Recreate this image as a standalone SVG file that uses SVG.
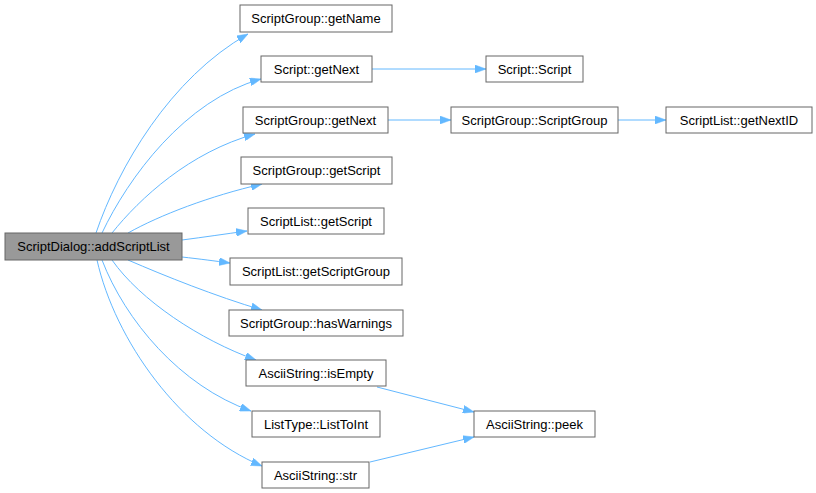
<svg xmlns="http://www.w3.org/2000/svg" width="816" height="493" viewBox="0 0 816 493">
<defs>
<style>
.n rect{fill:#ffffff;stroke:#666666;stroke-width:1}
.n.root rect{fill:#999999}
.n text{font-family:"Liberation Sans",Arial,sans-serif;font-size:13px;fill:#000000;text-anchor:middle}
.e path{fill:none;stroke:#63b8ff;stroke-width:1;marker-end:url(#ah)}
</style>
<marker id="ah" markerUnits="userSpaceOnUse" markerWidth="11" markerHeight="8" refX="11" refY="4" orient="auto">
<path d="M0,0 L11,4 L0,8 z" fill="#63b8ff" stroke="#63b8ff" stroke-width="0.5"/>
</marker>
</defs>
<rect width="816" height="493" fill="#ffffff"/>
<g id="edges" class="e">
<path d="M96,233 C118,168 170,78 248,34"/>
<path d="M102,233 C128,178 185,100 261,79"/>
<path d="M112,233 C140,198 190,152 255,134"/>
<path d="M128,233 C160,215 210,196 262,184"/>
<path d="M182,240 C205,237 225,234 247,231"/>
<path d="M182,257 C200,259 215,261 230,263"/>
<path d="M128,260 C165,276 215,296 262,310"/>
<path d="M112,260 C140,300 200,340 256,360"/>
<path d="M102,260 C125,320 180,386 251,411"/>
<path d="M97,260 C115,340 180,432 262,466"/>
<path d="M372,69 L486,69"/>
<path d="M388,120 L451,120"/>
<path d="M618,120 L666,120"/>
<path d="M377,387 L474,412"/>
<path d="M370,462 L474,437"/>
</g>
<g id="n0" class="n root"><rect x="5" y="233" width="177" height="27"/><text x="93.5" y="251">ScriptDialog::addScriptList</text></g>
<g id="n1" class="n"><rect x="240" y="5" width="152" height="27"/><text x="316" y="23">ScriptGroup::getName</text></g>
<g id="n2" class="n"><rect x="261" y="56" width="111" height="26"/><text x="316.5" y="73.5">Script::getNext</text></g>
<g id="n3" class="n"><rect x="243" y="107" width="145" height="26"/><text x="315.5" y="124.5">ScriptGroup::getNext</text></g>
<g id="n4" class="n"><rect x="486" y="56" width="97" height="26"/><text x="534.5" y="73.5">Script::Script</text></g>
<g id="n5" class="n"><rect x="451" y="107" width="167" height="26"/><text x="534.5" y="124.5">ScriptGroup::ScriptGroup</text></g>
<g id="n6" class="n"><rect x="666" y="107" width="146" height="26"/><text x="739" y="124.5">ScriptList::getNextID</text></g>
<g id="n7" class="n"><rect x="241" y="157" width="151" height="27"/><text x="316.5" y="175">ScriptGroup::getScript</text></g>
<g id="n8" class="n"><rect x="248" y="208" width="136" height="26"/><text x="316" y="225.5">ScriptList::getScript</text></g>
<g id="n9" class="n"><rect x="230" y="258" width="172" height="27"/><text x="316" y="276">ScriptList::getScriptGroup</text></g>
<g id="n10" class="n"><rect x="229" y="310" width="174" height="26"/><text x="316" y="327.5">ScriptGroup::hasWarnings</text></g>
<g id="n11" class="n"><rect x="246" y="360" width="140" height="26"/><text x="316" y="377.5">AsciiString::isEmpty</text></g>
<g id="n12" class="n"><rect x="252" y="411" width="128" height="26"/><text x="316" y="428.5">ListType::ListToInt</text></g>
<g id="n13" class="n"><rect x="262" y="462" width="107" height="26"/><text x="315.5" y="479.5">AsciiString::str</text></g>
<g id="n14" class="n"><rect x="474" y="411" width="121" height="26"/><text x="534.5" y="428.5">AsciiString::peek</text></g>
</svg>
